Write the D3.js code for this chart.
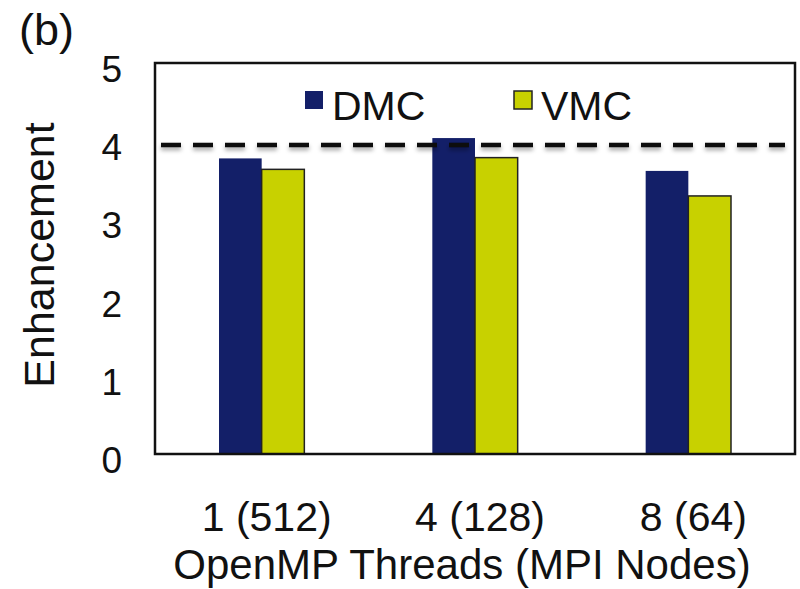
<!DOCTYPE html>
<html>
<head>
<meta charset="utf-8">
<script src="https://cdn.jsdelivr.net/npm/d3@7"></script>
<style>
  body { margin: 0; background: #fff; }
  text { font-family: "Liberation Sans", Arial, Helvetica, sans-serif; fill: #111; }
</style>
</head>
<body>
<svg id="chart" width="800" height="589"></svg>
<script>
// data
const categories = ["1 (512)", "4 (128)", "8 (64)"];
const seriesNames = ["DMC", "VMC"];
const dmcValues = [3.78, 4.04, 3.62];
const vmcValues = [3.64, 3.79, 3.30];
const yTicks = [0, 1, 2, 3, 4, 5];
const idealLine = 3.95;

const colors = { DMC: "#131f68", VMC: "#c8d100" };

const width = 800, height = 589;
const padding = { top: 63, bottom: 135, left: 155, right: 5 };

const svg = d3.select("#chart");

// soft shadow under the dashed line, like the original export
const defs = svg.append("defs");
const shadow = defs.append("filter").attr("id", "shadow")
  .attr("filterUnits", "userSpaceOnUse")
  .attr("x", 0).attr("y", 0).attr("width", width).attr("height", height);
shadow.append("feDropShadow")
  .attr("dx", 0).attr("dy", 3).attr("stdDeviation", 2)
  .attr("flood-color", "#000").attr("flood-opacity", 0.35);

const xScale = d3.scaleBand()
  .domain(categories)
  .range([padding.left, width - padding.right])
  .paddingInner(0.6)
  .paddingOuter(0.3);

const xSub = d3.scaleBand()
  .domain(seriesNames)
  .range([0, xScale.bandwidth()]);

const yScale = d3.scaleLinear()
  .domain([0, 5])
  .range([height - padding.bottom, padding.top]);

// table for the bars
const rows = categories.map((c, i) => ({ cat: c, DMC: dmcValues[i], VMC: vmcValues[i] }));

// bars
const groups = svg.append("g").selectAll("g")
  .data(rows)
  .join("g")
  .attr("transform", d => `translate(${xScale(d.cat)},0)`);

groups.selectAll("rect")
  .data(d => seriesNames.map(s => ({ key: s, value: d[s] })))
  .join("rect")
  .attr("x", d => xSub(d.key))
  .attr("y", d => yScale(d.value))
  .attr("width", xSub.bandwidth())
  .attr("height", d => yScale(0) - yScale(d.value))
  .attr("fill", d => colors[d.key])
  .attr("stroke", d => d.key === "VMC" ? "#222" : "none")
  .attr("stroke-width", 1.5);

// dashed reference line
svg.append("line")
  .attr("x1", padding.left + 6)
  .attr("x2", width - padding.right - 10)
  .attr("y1", yScale(idealLine))
  .attr("y2", yScale(idealLine))
  .attr("stroke", "#111")
  .attr("stroke-width", 4.5)
  .attr("stroke-dasharray", "20,12")
  .attr("filter", "url(#shadow)");

// plot frame
svg.append("rect")
  .attr("x", padding.left)
  .attr("y", padding.top)
  .attr("width", width - padding.left - padding.right)
  .attr("height", height - padding.top - padding.bottom)
  .attr("fill", "none")
  .attr("stroke", "#111")
  .attr("stroke-width", 2.5);

// y-axis (labels only)
const yAxis = svg.append("g")
  .attr("transform", `translate(${padding.left}, 0)`)
  .call(d3.axisLeft(yScale).tickValues(yTicks).tickSize(0).tickPadding(33).tickFormat(d3.format("d")));
yAxis.select(".domain").remove();
yAxis.selectAll("text")
  .attr("font-size", 37)
  .attr("font-family", null)
  .attr("dy", "0.5em")
  .attr("fill", "#111");

// x-axis (labels only)
const xAxis = svg.append("g")
  .attr("transform", `translate(0, ${height - padding.bottom})`)
  .call(d3.axisBottom(xScale).tickSize(0).tickPadding(0));
xAxis.select(".domain").remove();
xAxis.selectAll("text")
  .attr("font-size", 41)
  .attr("font-family", null)
  .attr("dy", null)
  .attr("y", 77)
  .attr("dx", 5)
  .attr("fill", "#111");

// axis titles
svg.append("text")
  .attr("text-anchor", "middle")
  .attr("font-size", 43)
  .attr("transform", `translate(54, 255) rotate(-90)`)
  .text("Enhancement");

svg.append("text")
  .attr("text-anchor", "middle")
  .attr("font-size", 42)
  .attr("x", 462)
  .attr("y", 579)
  .text("OpenMP Threads (MPI Nodes)");

// panel label
svg.append("text")
  .attr("x", 19)
  .attr("y", 45)
  .attr("font-size", 45)
  .text("(b)");

// legend
const legendX = [305, 514];
const legend = svg.append("g").selectAll("g")
  .data(seriesNames)
  .join("g")
  .attr("transform", (d, i) => `translate(${legendX[i]}, 91)`);

legend.append("rect")
  .attr("width", 18)
  .attr("height", 18)
  .attr("fill", d => colors[d])
  .attr("stroke", d => d === "VMC" ? "#222" : "none")
  .attr("stroke-width", 1.5);

legend.append("text")
  .attr("x", 27)
  .attr("y", 29)
  .attr("font-size", 41)
  .text(d => d);
</script>
</body>
</html>
